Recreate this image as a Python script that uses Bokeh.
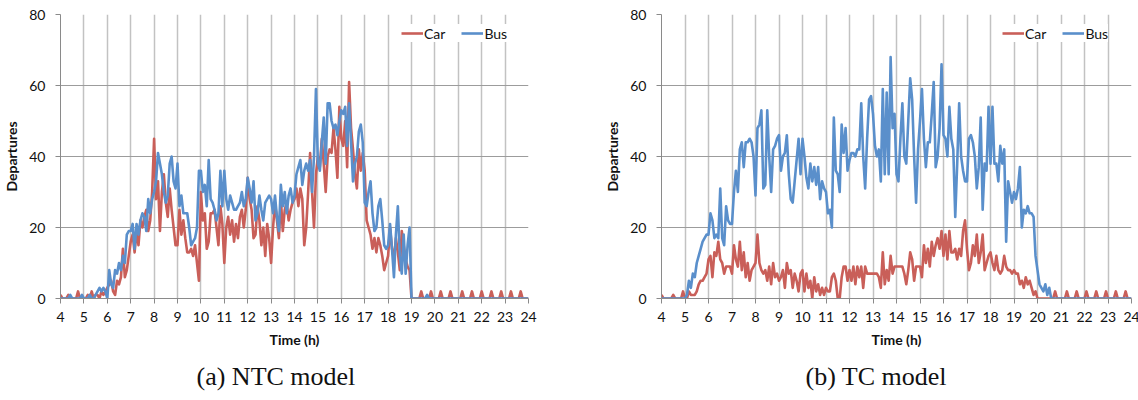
from bokeh.plotting import figure
from bokeh.layouts import row
from bokeh.models import Legend, LegendItem, Title, FixedTicker, Range1d
from bokeh.embed import file_html
from bokeh.resources import INLINE

# x axis: hours of the day, departures counted every 5 minutes
hour_ticks = list(range(4, 25))
y_ticks = [0, 20, 40, 60, 80]
interval_min = 5
time_h = [4 + i * interval_min / 60 for i in range(241)]

# (a) NTC model
ntc_car = [
    1, 0, 0, 0, 1, 0, 0, 0, 0, 2, 0, 0,            # 4
    0, 0, 1, 0, 2, 0, 1, 1, 0, 2, 1, 2,            # 5
    3, 4, 5, 2, 1, 5, 4, 6, 14, 6, 8, 12,          # 6
    16, 18, 13, 19, 15, 22, 20, 23, 25, 19, 22, 30,  # 7
    45, 28, 33, 19, 30, 35, 27, 23, 31, 25, 20, 15,  # 8
    15, 25, 18, 22, 17, 13, 13, 14, 12, 15, 10, 5,   # 9
    30, 22, 24, 14, 16, 24, 24, 25, 20, 15, 26, 21,  # 10
    10, 20, 23, 18, 22, 16, 21, 17, 23, 25, 20, 25,  # 11
    34, 28, 25, 17, 18, 26, 22, 15, 20, 12, 21, 17,  # 12
    10, 20, 27, 22, 17, 28, 19, 25, 27, 22, 25, 27,  # 13
    28, 31, 26, 31, 28, 15, 20, 30, 41, 30, 20, 35,  # 14
    40, 37, 45, 38, 30, 40, 42, 41, 48, 42, 34, 54,  # 15
    45, 43, 50, 37, 61, 48, 42, 35, 31, 42, 36, 41,  # 16
    36, 22, 20, 18, 14, 17, 13, 17, 15, 12, 8, 10,   # 17
    12, 20, 14, 11, 17, 13, 8, 19, 15, 11, 9, 8,     # 18
    0, 0, 0, 0, 0, 2, 0, 0, 0, 0, 2, 0,            # 19
    0, 0, 0, 2, 0, 0, 0, 0, 2, 0, 0, 0,            # 20
    0, 0, 2, 0, 0, 0, 0, 2, 0, 0, 0, 0,            # 21
    2, 0, 0, 0, 0, 2, 0, 0, 0, 0, 2, 0,            # 22
    0, 0, 0, 2, 0, 0, 0, 0, 2, 0, 0, 0,            # 23
    0,
]
ntc_bus = [
    0, 0, 0, 0, 0, 1, 0, 0, 0, 0, 0, 1,            # 4
    0, 0, 0, 1, 0, 0, 1, 2, 3, 2, 3, 2,            # 5
    0, 8, 4, 3, 8, 7, 10, 8, 12, 10, 18, 19,       # 6
    19, 21, 14, 21, 18, 22, 24, 23, 19, 28, 24, 28,  # 7
    30, 33, 41, 38, 35, 30, 27, 29, 38, 40, 33, 31,  # 8
    38, 26, 29, 24, 24, 24, 20, 15, 16, 17, 20, 36,  # 9
    36, 30, 32, 26, 39, 28, 27, 25, 22, 24, 36, 26,  # 10
    36, 28, 25, 29, 27, 25, 25, 26, 27, 30, 26, 28,  # 11
    34, 31, 27, 33, 22, 24, 29, 25, 22, 27, 28, 29,  # 12
    28, 24, 29, 23, 19, 32, 26, 30, 24, 29, 31, 27,  # 13
    29, 35, 37, 39, 32, 36, 38, 36, 39, 30, 40, 59,  # 14
    38, 36, 44, 51, 38, 55, 55, 50, 48, 49, 46, 50,  # 15
    53, 52, 54, 43, 55, 44, 33, 38, 40, 47, 49, 44,  # 16
    27, 26, 30, 33, 24, 19, 20, 26, 28, 22, 15, 14,  # 17
    15, 21, 14, 6, 18, 26, 12, 7, 18, 7, 15, 20,     # 18
    0, 0, 0, 0, 0, 0, 0, 0, 1, 0, 0, 0,            # 19
    0, 0, 0, 0, 0, 0, 0, 0, 0, 0, 0, 0,            # 20
    0, 0, 0, 0, 0, 0, 0, 0, 0, 0, 0, 0,            # 21
    0, 0, 0, 0, 0, 0, 0, 0, 0, 0, 0, 0,            # 22
    0, 0, 0, 0, 0, 0, 0, 0, 0, 0, 0, 0,            # 23
    0,
]

# (b) TC model
tc_car = [
    1, 0, 0, 0, 0, 0, 1, 0, 0, 0, 0, 2,            # 4
    0, 0, 2, 1, 1, 1, 2, 4, 5, 5, 6, 7,            # 5
    11, 12, 6, 13, 12, 16, 11, 10, 7, 9, 9, 9,     # 6
    7, 15, 11, 9, 16, 8, 13, 6, 10, 5, 8, 9,       # 7
    10, 18, 10, 8, 7, 8, 5, 9, 4, 10, 6, 7,        # 8
    5, 6, 8, 3, 10, 7, 8, 3, 7, 5, 2, 7,           # 9
    8, 2, 7, 3, 5, 0, 6, 2, 4, 1, 3, 1,            # 10
    3, 2, 2, 6, 7, 5, 0, 0, 6, 9, 9, 5,            # 11
    8, 5, 9, 4, 9, 6, 9, 3, 9, 7, 7, 7,            # 12
    7, 7, 7, 6, 3, 13, 4, 8, 5, 12, 7, 9,          # 13
    9, 9, 9, 9, 7, 4, 8, 13, 11, 5, 9, 9,          # 14
    9, 6, 15, 10, 14, 9, 16, 12, 15, 17, 14, 19,   # 15
    12, 18, 11, 19, 13, 13, 14, 11, 14, 12, 19, 22,  # 16
    14, 8, 10, 15, 12, 18, 10, 13, 18, 8, 10, 12,  # 17
    13, 10, 8, 12, 8, 7, 8, 12, 9, 8, 8, 7,        # 18
    8, 7, 7, 4, 5, 3, 6, 4, 5, 3, 1, 2,            # 19
    0, 0, 0, 0, 0, 0, 0, 0, 0, 2, 0, 0,            # 20
    0, 0, 0, 2, 0, 0, 0, 0, 2, 0, 0, 0,            # 21
    0, 2, 0, 0, 0, 0, 2, 0, 0, 0, 0, 2,            # 22
    0, 0, 0, 0, 2, 0, 0, 0, 0, 2, 0, 0,            # 23
    0,
]
tc_bus = [
    0, 0, 0, 0, 0, 0, 0, 0, 0, 0, 0, 0,            # 4
    0, 1, 5, 3, 7, 6, 10, 12, 14, 16, 17, 18,      # 5
    18, 24, 22, 17, 18, 17, 31, 17, 15, 26, 22, 21,  # 6
    21, 30, 36, 30, 42, 44, 37, 44, 44, 45, 44, 40,  # 7
    29, 48, 49, 53, 31, 32, 53, 40, 30, 42, 43, 45,  # 8
    46, 36, 40, 41, 46, 35, 28, 27, 33, 39, 45, 35,  # 9
    45, 40, 34, 31, 38, 33, 37, 32, 37, 28, 33, 31,  # 10
    30, 24, 25, 20, 51, 36, 35, 30, 49, 41, 48, 36,  # 11
    39, 41, 41, 40, 42, 42, 55, 40, 31, 45, 56, 57,  # 12
    52, 43, 40, 42, 33, 59, 35, 58, 35, 68, 48, 52,  # 13
    35, 33, 45, 55, 40, 38, 50, 62, 56, 40, 27, 42,  # 14
    50, 59, 45, 37, 44, 44, 52, 61, 37, 40, 48, 66,  # 15
    46, 45, 40, 54, 45, 42, 23, 38, 55, 40, 36, 33,  # 16
    33, 45, 46, 44, 40, 31, 37, 51, 25, 38, 36, 54,  # 17
    38, 54, 38, 38, 33, 43, 38, 42, 16, 33, 30, 27,  # 18
    30, 28, 31, 37, 20, 25, 24, 26, 24, 24, 23, 12,  # 19
    8, 4, 3, 2, 4, 1, 3, 0, 0, 0, 0, 0,            # 20
    0, 0, 0, 0, 0, 0, 0, 0, 0, 0, 0, 0,            # 21
    0, 0, 0, 0, 0, 0, 0, 0, 0, 0, 0, 0,            # 22
    0, 0, 0, 0, 0, 0, 0, 0, 0, 0, 0, 0,            # 23
    0,
]

series_names = ["Car", "Bus"]
captions = ["(a) NTC model", "(b) TC model"]

RED = "#C95F59"
BLUE = "#5A8FCB"
FONT = "Lato"


def make_panel(car, bus, caption, border_left, frame_w, border_right, cap_offset):
    p = figure(frame_width=frame_w, frame_height=284,
               min_border_left=border_left, min_border_right=border_right,
               min_border_top=14, min_border_bottom=102,
               x_range=Range1d(4, 24), y_range=Range1d(0, 80),
               output_backend="svg", toolbar_location=None,
               outline_line_color=None, background_fill_color="white",
               border_fill_color="white")
    p.xaxis.ticker = FixedTicker(ticks=hour_ticks)
    p.yaxis.ticker = FixedTicker(ticks=y_ticks)
    p.xgrid.ticker = FixedTicker(ticks=hour_ticks)
    p.ygrid.ticker = FixedTicker(ticks=y_ticks)
    p.xgrid.grid_line_color = "#C2C2C2"
    p.xgrid.grid_line_width = 1.5
    p.ygrid.grid_line_color = "#9C9C9C"
    p.ygrid.grid_line_width = 1.2
    for ax in (p.xaxis, p.yaxis):
        ax.axis_line_color = "#8A8A8A"
        ax.major_tick_line_color = "#8A8A8A"
        ax.major_tick_out = 5
        ax.major_tick_in = 0
        ax.minor_tick_line_color = None
        ax.major_label_text_font = FONT
        ax.major_label_text_font_size = "14px"
        ax.major_label_text_color = "#111111"
        ax.axis_label_text_font = FONT
        ax.axis_label_text_font_size = "14px"
        ax.axis_label_text_font_style = "bold"
        ax.axis_label_text_color = "#111111"
    p.xaxis.axis_label = "Time (h)"
    p.yaxis.axis_label = "Departures"
    p.xaxis.major_label_standoff = 8
    p.yaxis.major_label_standoff = 10
    p.xaxis.axis_label_standoff = 6
    p.yaxis.axis_label_standoff = 6

    r_car = p.line(time_h, car, line_color=RED, line_width=2.6, line_join="round")
    r_bus = p.line(time_h, bus, line_color=BLUE, line_width=2.6, line_join="round")

    legend = Legend(items=[LegendItem(label=series_names[0], renderers=[r_car]),
                           LegendItem(label=series_names[1], renderers=[r_bus])],
                    orientation="horizontal", location=(341, 256),
                    padding=6, spacing=16, label_standoff=1,
                    glyph_width=22, glyph_height=18, label_height=18,
                    label_text_font=FONT, label_text_font_size="14px",
                    label_text_color="#111111",
                    border_line_color=None, background_fill_color="white",
                    background_fill_alpha=1.0, margin=0)
    p.add_layout(legend, "center")

    cap = Title(text=caption, align="left", offset=cap_offset,
                text_font="Liberation Serif", text_font_size="26px",
                text_font_style="normal", text_color="#111111", standoff=18)
    p.add_layout(cap, "below")
    return p


p1 = make_panel(ntc_car, ntc_bus, captions[0], 58, 468, 43, 136)
p2 = make_panel(tc_car, tc_bus, captions[1], 90, 470, 9, 144)
layout = row(p1, p2, spacing=0)

open("out.html", "w").write(file_html(layout, INLINE))
